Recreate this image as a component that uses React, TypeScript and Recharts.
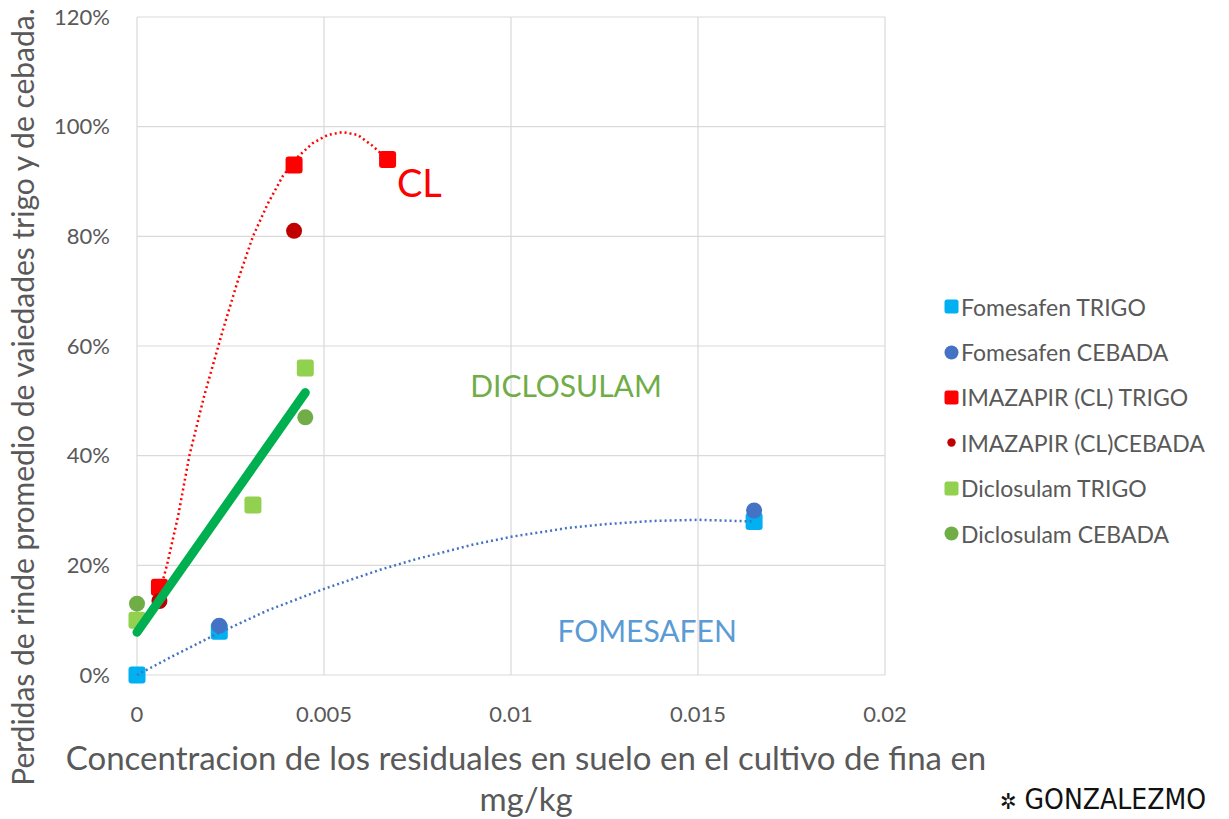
import React from 'react';
import {
  ScatterChart,
  Scatter,
  XAxis,
  YAxis,
  CartesianGrid,
  Legend,
  ReferenceDot,
  Label,
} from 'recharts';

// ---- tick labels ----
const xTicks = [0, 0.005, 0.01, 0.015, 0.02];
const yTicks = [0, 20, 40, 60, 80, 100, 120];

// ---- series values (x in mg/kg, y in %) ----
const fomesafenTrigo = [
  { x: 0, y: 0 },
  { x: 0.0022, y: 8 },
  { x: 0.0165, y: 28 },
];
const fomesafenCebada = [
  { x: 0.0022, y: 9 },
  { x: 0.0165, y: 30 },
];
const imazapirTrigo = [
  { x: 0.0006, y: 16 },
  { x: 0.0042, y: 93 },
  { x: 0.0067, y: 94 },
];
const imazapirCebada = [
  { x: 0.0006, y: 13.5 },
  { x: 0.0042, y: 81 },
];
const diclosulamTrigo = [
  { x: 0, y: 10 },
  { x: 0.0031, y: 31 },
  { x: 0.0045, y: 56 },
];
const diclosulamCebada = [
  { x: 0, y: 13 },
  { x: 0.0045, y: 47 },
];

// ---- trend lines ----
const trendImazapir = [
  { x: 0.0006, y: 15 },
  { x: 0.0008, y: 20 },
  { x: 0.0011, y: 29 },
  { x: 0.0014, y: 40 },
  { x: 0.0018, y: 51 },
  { x: 0.0023, y: 63 },
  { x: 0.0027, y: 72 },
  { x: 0.0031, y: 80 },
  { x: 0.0035, y: 86 },
  { x: 0.0039, y: 91 },
  { x: 0.0043, y: 94.5 },
  { x: 0.0047, y: 97 },
  { x: 0.0051, y: 98.5 },
  { x: 0.0055, y: 99 },
  { x: 0.0059, y: 98.5 },
  { x: 0.0063, y: 96.5 },
  { x: 0.0067, y: 94 },
];
const trendFomesafen = [
  { x: 0, y: 0 },
  { x: 0.001, y: 3.6 },
  { x: 0.0022, y: 7.7 },
  { x: 0.0035, y: 11.8 },
  { x: 0.005, y: 15.7 },
  { x: 0.0065, y: 19.2 },
  { x: 0.0075, y: 21.2 },
  { x: 0.009, y: 23.8 },
  { x: 0.01, y: 25.2 },
  { x: 0.0115, y: 26.8 },
  { x: 0.0125, y: 27.5 },
  { x: 0.0138, y: 28.1 },
  { x: 0.015, y: 28.3 },
  { x: 0.0165, y: 28 },
];
const trendDiclosulam = [
  { x: 0, y: 7.8 },
  { x: 0.0045, y: 51.5 },
];

// ---- annotations ----
const annotations = [
  { x: 0.00755, y: 90, text: 'CL', color: '#FF0000', size: 38 },
  { x: 0.01147, y: 52.9, text: 'DICLOSULAM', color: '#70AD47', size: 30 },
  { x: 0.01364, y: 8.2, text: 'FOMESAFEN', color: '#5B9BD5', size: 30 },
];

const FONT = 'Lato, "Open Sans", sans-serif';
const GRAY = '#595959';

type Kind = 'square' | 'circle' | 'small';

const seriesDefs: { name: string; data: { x: number; y: number }[]; color: string; kind: Kind }[] = [
  { name: 'Fomesafen TRIGO', data: fomesafenTrigo, color: '#00B0F0', kind: 'square' },
  { name: 'Fomesafen CEBADA', data: fomesafenCebada, color: '#4472C4', kind: 'circle' },
  { name: 'IMAZAPIR (CL) TRIGO', data: imazapirTrigo, color: '#FF0000', kind: 'square' },
  { name: 'IMAZAPIR (CL)CEBADA', data: imazapirCebada, color: '#C00000', kind: 'circle' },
  { name: 'Diclosulam TRIGO', data: diclosulamTrigo, color: '#92D050', kind: 'square' },
  { name: 'Diclosulam CEBADA', data: diclosulamCebada, color: '#70AD47', kind: 'circle' },
];

const makeShape = (kind: Kind, color: string) => (props: any) => {
  const { cx, cy } = props;
  if (cx == null || cy == null) return <g />;
  if (kind === 'square') {
    const s = 17;
    return <rect x={cx - s / 2} y={cy - s / 2} width={s} height={s} rx={3} fill={color} />;
  }
  return <circle cx={cx} cy={cy} r={8} fill={color} />;
};

const noShape = () => <g />;

const LegendMarker = ({ kind, color }: { kind: Kind; color: string }) => {
  if (kind === 'square')
    return (
      <svg width={15} height={15} style={{ display: 'block' }}>
        <rect x={0.5} y={0.5} width={14} height={14} rx={2.5} fill={color} />
      </svg>
    );
  if (kind === 'small')
    return (
      <svg width={15} height={15} style={{ display: 'block' }}>
        <circle cx={7.5} cy={7.5} r={4.2} fill={color} />
      </svg>
    );
  return (
    <svg width={15} height={15} style={{ display: 'block' }}>
      <circle cx={7.5} cy={7.5} r={7} fill={color} />
    </svg>
  );
};

const legendKinds: Kind[] = ['square', 'circle', 'square', 'small', 'square', 'circle'];

const renderLegend = () => (
  <div style={{ fontFamily: FONT, fontSize: 23, color: GRAY }}>
    {seriesDefs.map((s, i) => (
      <div
        key={s.name}
        style={{ display: 'flex', alignItems: 'center', height: 45.4, whiteSpace: 'nowrap' }}
      >
        <div style={{ width: 17 }}>
          <LegendMarker kind={legendKinds[i]} color={s.color} />
        </div>
        <span>{s.name}</span>
      </div>
    ))}
  </div>
);

const XTitle = (props: any) => {
  const { viewBox } = props;
  const cx = viewBox.x + viewBox.width / 2 + 15;
  return (
    <g>
      <text x={cx} y={viewBox.y + 95} textAnchor="middle" fontFamily={FONT} fontSize={33} fill={GRAY}>
        Concentracion de los residuales en suelo en el cultivo de fina en
      </text>
      <text x={cx} y={viewBox.y + 136} textAnchor="middle" fontFamily={FONT} fontSize={33} fill={GRAY}>
        mg/kg
      </text>
    </g>
  );
};

const YTitle = () => {
  const x = 34;
  const y = 397;
  return (
    <text
      x={x}
      y={y}
      transform={`rotate(-90 ${x} ${y})`}
      textAnchor="middle"
      fontFamily={FONT}
      fontSize={30}
      fill={GRAY}
    >
      Perdidas de rinde promedio de vaiedades trigo y de cebada.
    </text>
  );
};

export default function App() {
  return (
    <div style={{ position: 'absolute', left: 0, top: 0, width: 1229, height: 819, background: '#fff', overflow: 'hidden' }}>
      <ScatterChart
        width={1229}
        height={819}
        margin={{ top: 17, right: 344, bottom: 0, left: 0 }}
      >
        <CartesianGrid stroke="#D9D9D9" strokeWidth={1.2} />
        <XAxis
          type="number"
          dataKey="x"
          domain={[0, 0.02]}
          ticks={xTicks}
          interval={0}
          height={144}
          axisLine={false}
          tickLine={false}
          tickSize={0}
          tickMargin={31}
          tick={{ fill: GRAY, fontSize: 22, fontFamily: FONT }}
        >
          <Label content={<XTitle />} />
        </XAxis>
        <YAxis
          type="number"
          dataKey="y"
          domain={[0, 120]}
          ticks={yTicks}
          interval={0}
          width={137}
          axisLine={false}
          tickLine={false}
          tickSize={0}
          tickMargin={27}
          tickFormatter={(v: number) => `${v}%`}
          tick={{ fill: GRAY, fontSize: 22, fontFamily: FONT }}
        >
          <Label content={<YTitle />} />
        </YAxis>
        <Legend
          layout="horizontal"
          verticalAlign="middle"
          align="center"
          content={renderLegend}
          wrapperStyle={{ position: 'absolute', left: 944, top: 284, width: 285, height: 280 }}
        />
        {seriesDefs.map((s) => (
          <Scatter
            key={s.name}
            name={s.name}
            data={s.data}
            fill={s.color}
            shape={makeShape(s.kind, s.color)}
            isAnimationActive={false}
          />
        ))}
        <Scatter
          name="trend-fomesafen"
          data={trendFomesafen}
          legendType="none"
          line={{ stroke: '#4472C4', strokeWidth: 2.5, strokeDasharray: '2 3' }}
          lineType="joint"
          shape={noShape}
          isAnimationActive={false}
        />
        <Scatter
          name="trend-imazapir"
          data={trendImazapir}
          legendType="none"
          line={{ stroke: '#FF0000', strokeWidth: 2.5, strokeDasharray: '2 3' }}
          lineType="joint"
          shape={noShape}
          isAnimationActive={false}
        />
        <Scatter
          name="trend-diclosulam"
          data={trendDiclosulam}
          legendType="none"
          line={{ stroke: '#00B050', strokeWidth: 9, strokeLinecap: 'round' }}
          lineType="joint"
          shape={noShape}
          isAnimationActive={false}
        />
        {annotations.map((a) => (
          <ReferenceDot
            key={a.text}
            x={a.x}
            y={a.y}
            r={0}
            fill="none"
            stroke="none"
            label={(p: any) => (
              <text
                x={p.viewBox.x}
                y={p.viewBox.y}
                textAnchor="middle"
                dominantBaseline="central"
                fontFamily={FONT}
                fontSize={a.size}
                fill={a.color}
              >
                {a.text}
              </text>
            )}
          />
        ))}
      </ScatterChart>
      <div
        style={{
          position: 'absolute',
          left: 1000,
          top: 784,
          width: 229,
          height: 32,
          whiteSpace: 'nowrap',
          fontFamily: '"Liberation Sans Narrow", "DejaVu Sans Condensed", sans-serif',
          fontSize: 28,
          lineHeight: '32px',
          color: '#111',
        }}
      >
        <span style={{ fontSize: 22, marginRight: 8 }}>✲</span>GONZALEZMO
      </div>
    </div>
  );
}
